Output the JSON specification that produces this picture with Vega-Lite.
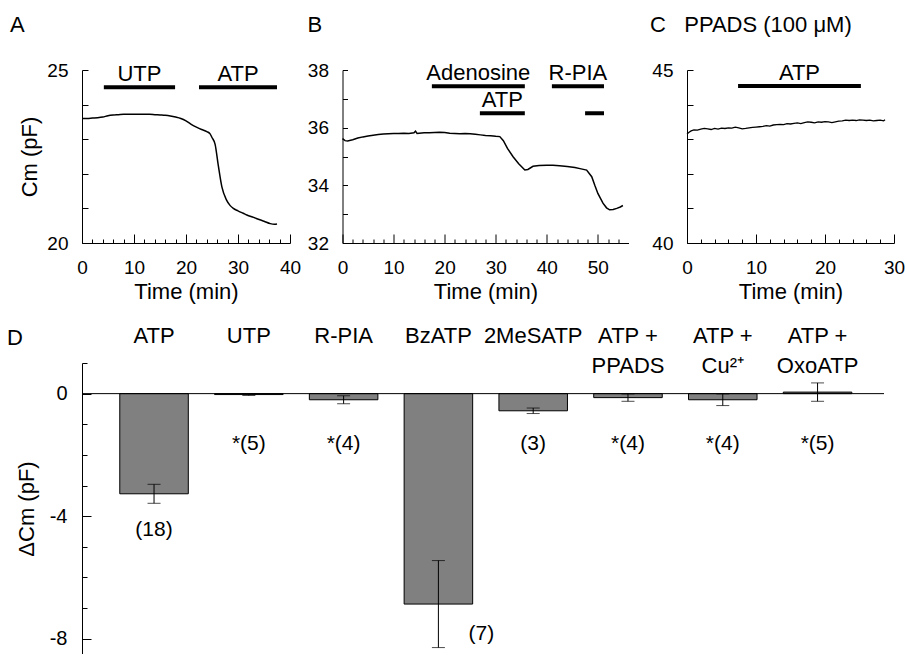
{
  "$schema": "https://vega.github.io/schema/vega-lite/v6.json",
  "padding": {"left": 7, "top": 14, "right": 0, "bottom": 0},
  "config": {
    "font": "Liberation Sans",
    "view": {"stroke": null},
    "axis": {"domainColor": "black", "tickColor": "black", "labelColor": "black", "titleColor": "black", "labelFontSize": 19, "titleFontSize": 22, "titleFontWeight": "normal", "grid": false, "labelFont": "Liberation Sans", "titleFont": "Liberation Sans", "labelOverlap": false, "labelFlush": false, "tickWidth": 1, "domainWidth": 1},
    "title": {"font": "Liberation Sans", "fontSize": 22, "fontWeight": "normal", "anchor": "start", "frame": "group", "color": "black"},
    "text": {"font": "Liberation Sans", "fontSize": 22, "color": "black"}
  },
  "datasets": {
    "traceA": [
      {"t": 0, "cm": 23.6}, {"t": 1, "cm": 23.6}, {"t": 2, "cm": 23.61}, {"t": 3, "cm": 23.62}, {"t": 4, "cm": 23.64}, {"t": 5, "cm": 23.68}, {"t": 6, "cm": 23.7}, {"t": 7, "cm": 23.71}, {"t": 8, "cm": 23.72}, {"t": 9, "cm": 23.72}, {"t": 10, "cm": 23.72}, {"t": 11, "cm": 23.72}, {"t": 12, "cm": 23.72}, {"t": 13, "cm": 23.72}, {"t": 14, "cm": 23.71}, {"t": 15, "cm": 23.7}, {"t": 16, "cm": 23.69}, {"t": 17, "cm": 23.67}, {"t": 18, "cm": 23.64}, {"t": 19, "cm": 23.6}, {"t": 20, "cm": 23.53}, {"t": 21, "cm": 23.43}, {"t": 22, "cm": 23.35}, {"t": 23, "cm": 23.28}, {"t": 24, "cm": 23.22}, {"t": 24.6, "cm": 23.16}, {"t": 25, "cm": 23.05}, {"t": 25.6, "cm": 22.85}, {"t": 26.2, "cm": 22.25}, {"t": 26.9, "cm": 21.62}, {"t": 27.8, "cm": 21.24}, {"t": 28.5, "cm": 21.08}, {"t": 29.1, "cm": 21.0}, {"t": 30, "cm": 20.93}, {"t": 31, "cm": 20.86}, {"t": 31.7, "cm": 20.81}, {"t": 33, "cm": 20.74}, {"t": 34.2, "cm": 20.67}, {"t": 35, "cm": 20.63}, {"t": 36.2, "cm": 20.56}, {"t": 37, "cm": 20.54}, {"t": 37.5, "cm": 20.55}
    ],
    "traceB": [
      {"t": 0, "cm": 35.62}, {"t": 0.5, "cm": 35.55}, {"t": 1, "cm": 35.54}, {"t": 2, "cm": 35.58}, {"t": 3, "cm": 35.64}, {"t": 4, "cm": 35.68}, {"t": 5, "cm": 35.71}, {"t": 6, "cm": 35.74}, {"t": 7, "cm": 35.76}, {"t": 8, "cm": 35.78}, {"t": 9, "cm": 35.79}, {"t": 10, "cm": 35.8}, {"t": 11, "cm": 35.8}, {"t": 12, "cm": 35.81}, {"t": 13, "cm": 35.8}, {"t": 14, "cm": 35.82}, {"t": 14.3, "cm": 35.88}, {"t": 14.6, "cm": 35.8}, {"t": 15, "cm": 35.81}, {"t": 16, "cm": 35.82}, {"t": 17, "cm": 35.82}, {"t": 18, "cm": 35.83}, {"t": 19, "cm": 35.84}, {"t": 20, "cm": 35.83}, {"t": 21, "cm": 35.81}, {"t": 22, "cm": 35.8}, {"t": 23, "cm": 35.79}, {"t": 24, "cm": 35.8}, {"t": 25, "cm": 35.79}, {"t": 26, "cm": 35.77}, {"t": 27, "cm": 35.75}, {"t": 28, "cm": 35.73}, {"t": 29, "cm": 35.72}, {"t": 30, "cm": 35.7}, {"t": 30.8, "cm": 35.69}, {"t": 31.5, "cm": 35.55}, {"t": 32.3, "cm": 35.28}, {"t": 33.4, "cm": 34.99}, {"t": 34.5, "cm": 34.75}, {"t": 35.7, "cm": 34.53}, {"t": 36.3, "cm": 34.55}, {"t": 37.3, "cm": 34.66}, {"t": 38.5, "cm": 34.69}, {"t": 40, "cm": 34.7}, {"t": 41.2, "cm": 34.7}, {"t": 42.5, "cm": 34.68}, {"t": 44, "cm": 34.65}, {"t": 45.5, "cm": 34.62}, {"t": 46.5, "cm": 34.58}, {"t": 47.8, "cm": 34.53}, {"t": 48.8, "cm": 34.3}, {"t": 49.4, "cm": 34.0}, {"t": 50, "cm": 33.72}, {"t": 51, "cm": 33.38}, {"t": 51.7, "cm": 33.22}, {"t": 52.3, "cm": 33.15}, {"t": 53, "cm": 33.16}, {"t": 53.7, "cm": 33.2}, {"t": 54.4, "cm": 33.25}, {"t": 54.9, "cm": 33.3}
    ],
    "traceC": [
      {"t": 0, "cm": 43.15}, {"t": 0.3, "cm": 43.2}, {"t": 0.6, "cm": 43.24}, {"t": 1, "cm": 43.27}, {"t": 1.5, "cm": 43.26}, {"t": 2, "cm": 43.29}, {"t": 2.5, "cm": 43.31}, {"t": 3, "cm": 43.3}, {"t": 3.5, "cm": 43.28}, {"t": 4, "cm": 43.31}, {"t": 4.5, "cm": 43.29}, {"t": 5, "cm": 43.32}, {"t": 5.5, "cm": 43.31}, {"t": 6, "cm": 43.33}, {"t": 6.5, "cm": 43.32}, {"t": 7, "cm": 43.35}, {"t": 7.5, "cm": 43.33}, {"t": 8, "cm": 43.3}, {"t": 8.5, "cm": 43.31}, {"t": 9, "cm": 43.33}, {"t": 9.5, "cm": 43.34}, {"t": 10, "cm": 43.35}, {"t": 10.5, "cm": 43.36}, {"t": 11, "cm": 43.37}, {"t": 11.5, "cm": 43.39}, {"t": 12, "cm": 43.38}, {"t": 12.5, "cm": 43.41}, {"t": 13, "cm": 43.42}, {"t": 13.5, "cm": 43.43}, {"t": 14, "cm": 43.42}, {"t": 14.5, "cm": 43.45}, {"t": 15, "cm": 43.44}, {"t": 15.5, "cm": 43.46}, {"t": 16, "cm": 43.47}, {"t": 16.5, "cm": 43.45}, {"t": 17, "cm": 43.48}, {"t": 17.5, "cm": 43.5}, {"t": 18, "cm": 43.49}, {"t": 18.5, "cm": 43.47}, {"t": 19, "cm": 43.5}, {"t": 19.5, "cm": 43.49}, {"t": 20, "cm": 43.51}, {"t": 20.5, "cm": 43.5}, {"t": 21, "cm": 43.48}, {"t": 21.5, "cm": 43.5}, {"t": 22, "cm": 43.52}, {"t": 22.5, "cm": 43.53}, {"t": 23, "cm": 43.55}, {"t": 23.5, "cm": 43.54}, {"t": 24, "cm": 43.55}, {"t": 24.5, "cm": 43.54}, {"t": 25, "cm": 43.56}, {"t": 25.5, "cm": 43.55}, {"t": 26, "cm": 43.54}, {"t": 26.5, "cm": 43.55}, {"t": 27, "cm": 43.53}, {"t": 27.5, "cm": 43.54}, {"t": 28, "cm": 43.55}, {"t": 28.5, "cm": 43.53}, {"t": 28.7, "cm": 43.56}
    ],
    "appA": [
      {"label": "UTP", "start": 4.2, "end": 17.9},
      {"label": "ATP", "start": 22.5, "end": 37.5}
    ],
    "appB1": [
      {"label": "Adenosine", "start": 17.5, "end": 35.7},
      {"label": "R-PIA", "start": 41.0, "end": 51.2}
    ],
    "appB2": [
      {"label": "ATP", "start": 26.9, "end": 35.7},
      {"label": "", "start": 47.5, "end": 51.2}
    ],
    "appC": [
      {"label": "ATP", "start": 7.4, "end": 25.2}
    ],
    "bars": [
      {"drug": "ATP", "mean": -3.27, "se": 0.31, "n": "(18)"},
      {"drug": "UTP", "mean": -0.03, "se": 0.03, "n": "*(5)"},
      {"drug": "R-PIA", "mean": -0.2, "se": 0.13, "n": "*(4)"},
      {"drug": "BzATP", "mean": -6.87, "se": 1.42, "n": "(7)"},
      {"drug": "2MeSATP", "mean": -0.56, "se": 0.09, "n": "(3)"},
      {"drug": "ATP + PPADS", "mean": -0.13, "se": 0.12, "n": "*(4)"},
      {"drug": "ATP + Cu²⁺", "mean": -0.2, "se": 0.19, "n": "*(4)"},
      {"drug": "ATP + OxoATP", "mean": 0.05, "se": 0.3, "n": "*(5)"}
    ]
  },
  "vconcat": [
    {
      "hconcat": [
        {
          "width": 208, "height": 173,
          "title": {"text": "A", "dx": -72, "offset": 24},
          "resolve": {"axis": {"x": "independent", "y": "independent"}},
          "layer": [
            {
              "data": {"name": "traceA"},
              "mark": {"type": "line", "color": "black", "strokeWidth": 1.5, "interpolate": "monotone"},
              "encoding": {
                "x": {"field": "t", "type": "quantitative", "scale": {"domain": [0, 40], "nice": false},
                  "axis": {"title": "Time (min)", "values": [0, 10, 20, 30, 40], "ticks": false, "tickSize": 0, "labelPadding": 15, "labelOverlap": false, "titleY": 55, "titleBaseline": "alphabetic"}},
                "y": {"field": "cm", "type": "quantitative", "scale": {"domain": [20, 25], "nice": false, "zero": false},
                  "axis": {"title": "Cm (pF)", "values": [20, 25], "ticks": false, "tickSize": 0, "labelPadding": 14, "labelOverlap": false, "titleX": -46, "titleBaseline": "alphabetic"}}
              }
            },
            {
              "data": {"name": "appA"},
              "mark": {"type": "rule", "color": "black", "strokeWidth": 4},
              "encoding": {
                "x": {"field": "start", "type": "quantitative",
                  "axis": {"orient": "top", "offset": -173, "title": null, "labels": false, "domain": false, "values": [0,2,4,6,8,10,12,14,16,18,20,22,24,26,28,30,32,34,36,38,40], "tickSize": {"condition": {"test": "datum.value % 10 === 0", "value": 9}, "value": 4}}},
                "x2": {"field": "end"},
                "y": {"datum": 24.5, "axis": {"orient": "right", "offset": -208, "title": null, "labels": false, "domain": false, "values": [20, 21, 22, 23, 24, 25], "tickSize": 6}}
              }
            },
            {
              "data": {"name": "appA"},
              "transform": [{"calculate": "(datum.start + datum.end) / 2", "as": "mid"}],
              "mark": {"type": "text", "baseline": "alphabetic", "dy": -6},
              "encoding": {"x": {"field": "mid", "type": "quantitative", "axis": null}, "y": {"datum": 24.5, "axis": null}, "text": {"field": "label"}}
            }
          ]
        },
        {
          "hconcat": [
            {
              "width": 286, "height": 173,
              "title": {"text": "B", "dx": -35, "offset": 24},
              "resolve": {"axis": {"x": "independent", "y": "independent"}},
              "layer": [
                {
                  "data": {"name": "traceB"},
                  "mark": {"type": "line", "color": "black", "strokeWidth": 1.5},
                  "encoding": {
                    "x": {"field": "t", "type": "quantitative", "scale": {"domain": [0, 56], "nice": false},
                      "axis": {"title": "Time (min)", "values": [0, 10, 20, 30, 40, 50], "ticks": false, "tickSize": 0, "labelPadding": 15, "labelOverlap": false, "titleY": 55, "titleBaseline": "alphabetic"}},
                    "y": {"field": "cm", "type": "quantitative", "scale": {"domain": [32, 38], "nice": false, "zero": false},
                      "axis": {"title": null, "values": [32, 34, 36, 38], "ticks": false, "tickSize": 0, "labelPadding": 14, "labelOverlap": false}}
                  }
                },
                {
                  "data": {"name": "appB1"},
                  "mark": {"type": "rule", "color": "black", "strokeWidth": 4},
                  "encoding": {
                    "x": {"field": "start", "type": "quantitative",
                      "axis": {"orient": "top", "offset": -173, "title": null, "labels": false, "domain": false, "values": [0,2,4,6,8,10,12,14,16,18,20,22,24,26,28,30,32,34,36,38,40,42,44,46,48,50,52,54], "tickSize": {"condition": {"test": "datum.value % 10 === 0", "value": 9}, "value": 4}}},
                    "x2": {"field": "end"},
                    "y": {"datum": 37.44, "axis": {"orient": "right", "offset": -286, "title": null, "labels": false, "domain": false, "values": [32, 33, 34, 35, 36, 37, 38], "tickSize": 5}}
                  }
                },
                {
                  "data": {"name": "appB1"},
                  "transform": [{"calculate": "(datum.start + datum.end) / 2", "as": "mid"}],
                  "mark": {"type": "text", "baseline": "alphabetic", "dy": -6},
                  "encoding": {"x": {"field": "mid", "type": "quantitative", "axis": null}, "y": {"datum": 37.44, "axis": null}, "text": {"field": "label"}}
                },
                {
                  "data": {"name": "appB2"},
                  "mark": {"type": "rule", "color": "black", "strokeWidth": 4},
                  "encoding": {"x": {"field": "start", "type": "quantitative", "axis": null}, "x2": {"field": "end"}, "y": {"datum": 36.5, "axis": null}}
                },
                {
                  "data": {"name": "appB2"},
                  "transform": [{"calculate": "(datum.start + datum.end) / 2", "as": "mid"}],
                  "mark": {"type": "text", "baseline": "alphabetic", "dy": -6},
                  "encoding": {"x": {"field": "mid", "type": "quantitative", "axis": null}, "y": {"datum": 36.5, "axis": null}, "text": {"field": "label"}}
                }
              ]
            },
            {
              "width": 207, "height": 173,
              "title": {"text": "C\u00a0\u00a0\u00a0PPADS (100 μM)", "dx": -37, "offset": 24},
              "resolve": {"axis": {"x": "independent", "y": "independent"}},
              "layer": [
                {
                  "data": {"name": "traceC"},
                  "mark": {"type": "line", "color": "black", "strokeWidth": 1.3},
                  "encoding": {
                    "x": {"field": "t", "type": "quantitative", "scale": {"domain": [0, 30], "nice": false},
                      "axis": {"title": "Time (min)", "values": [0, 10, 20, 30], "ticks": false, "tickSize": 0, "labelPadding": 15, "labelOverlap": false, "titleY": 55, "titleBaseline": "alphabetic"}},
                    "y": {"field": "cm", "type": "quantitative", "scale": {"domain": [40, 45], "nice": false, "zero": false},
                      "axis": {"title": null, "values": [40, 45], "ticks": false, "tickSize": 0, "labelPadding": 14, "labelOverlap": false}}
                  }
                },
                {
                  "data": {"name": "appC"},
                  "mark": {"type": "rule", "color": "black", "strokeWidth": 4},
                  "encoding": {
                    "x": {"field": "start", "type": "quantitative",
                      "axis": {"orient": "top", "offset": -173, "title": null, "labels": false, "domain": false, "values": [0,2,4,6,8,10,12,14,16,18,20,22,24,26,28,30], "tickSize": {"condition": {"test": "datum.value % 10 === 0", "value": 9}, "value": 4}}},
                    "x2": {"field": "end"},
                    "y": {"datum": 44.54, "axis": {"orient": "right", "offset": -207, "title": null, "labels": false, "domain": false, "values": [40, 41, 42, 43, 44, 45], "tickSize": 6}}
                  }
                },
                {
                  "data": {"name": "appC"},
                  "transform": [{"calculate": "(datum.start + datum.end) / 2", "as": "mid"}],
                  "mark": {"type": "text", "baseline": "alphabetic", "dy": -6},
                  "encoding": {"x": {"field": "mid", "type": "quantitative", "axis": null}, "y": {"datum": 44.54, "axis": null}, "text": {"field": "label"}}
                }
              ]
            }
          ],
          "spacing": 58.5,
          "bounds": "flush"
        }
      ],
      "spacing": 52.5,
      "bounds": "flush"
    },
    {
      "width": 802, "height": 291,
      "title": {"text": "D", "dx": -75, "dy": 30},
      "resolve": {"axis": {"y": "independent"}},
      "layer": [
        {
          "data": {"name": "bars"},
          "mark": {"type": "bar", "fill": "#808080", "stroke": "black", "strokeWidth": 1},
          "encoding": {
            "x": {"field": "drug", "type": "nominal", "sort": null, "scale": {"paddingInner": 0.277, "paddingOuter": 0.369, "align": 0.54},
              "axis": {"orient": "top", "title": null, "domain": false, "ticks": false, "tickSize": 0, "labelAngle": 0, "labelBaseline": "top", "labelPadding": 38, "labelFontSize": 22, "labelLineHeight": 30, "labelOverlap": false, "labelExpr": "split(replace(datum.label, ' + ', ' +|'), '|')"}},
            "y": {"field": "mean", "type": "quantitative", "title": "ΔCm (pF)", "scale": {"domain": [-8.5, 1], "nice": false, "zero": false},
              "axis": {"values": [-8, -4, 0], "labelExpr": "'' + datum.value", "labelFontSize": 20, "ticks": false, "tickSize": 0, "labelPadding": 15, "labelOverlap": false, "titleX": -49, "titleBaseline": "alphabetic"}}
          }
        },
        {
          "data": {"name": "bars"},
          "mark": {"type": "errorbar", "color": "black", "ticks": {"size": 13, "color": "black"}, "rule": {"color": "black"}},
          "encoding": {
            "x": {"field": "drug", "type": "nominal", "sort": null},
            "y": {"field": "mean", "type": "quantitative", "axis": null},
            "yError": {"field": "se"}
          }
        },
        {
          "data": {"values": [{}]},
          "mark": {"type": "rule", "color": "black", "strokeWidth": 1},
          "encoding": {"y": {"datum": 0, "axis": {"orient": "right", "offset": -802, "title": null, "labels": false, "domain": false, "values": [-8, -7, -6, -5, -4, -3, -2, -1, 0, 1], "tickSize": {"condition": {"test": "datum.value % 4 === 0", "value": 9}, "value": 5}}}}
        },
        {
          "data": {"name": "bars"},
          "transform": [{"filter": "datum.drug !== 'ATP' && datum.drug !== 'BzATP'"}],
          "mark": {"type": "text", "baseline": "middle", "fontSize": 21},
          "encoding": {"x": {"field": "drug", "type": "nominal", "sort": null}, "y": {"datum": -1.66, "axis": null}, "text": {"field": "n"}}
        },
        {
          "data": {"name": "bars"},
          "transform": [{"filter": "datum.drug === 'ATP'"}],
          "mark": {"type": "text", "baseline": "middle", "fontSize": 21},
          "encoding": {"x": {"field": "drug", "type": "nominal", "sort": null}, "y": {"datum": -4.44, "axis": null}, "text": {"field": "n"}}
        },
        {
          "data": {"name": "bars"},
          "transform": [{"filter": "datum.drug === 'BzATP'"}],
          "mark": {"type": "text", "baseline": "middle", "dx": 43, "fontSize": 21},
          "encoding": {"x": {"field": "drug", "type": "nominal", "sort": null}, "y": {"datum": -7.84, "axis": null}, "text": {"field": "n"}}
        }
      ]
    }
  ],
  "spacing": 22
}
